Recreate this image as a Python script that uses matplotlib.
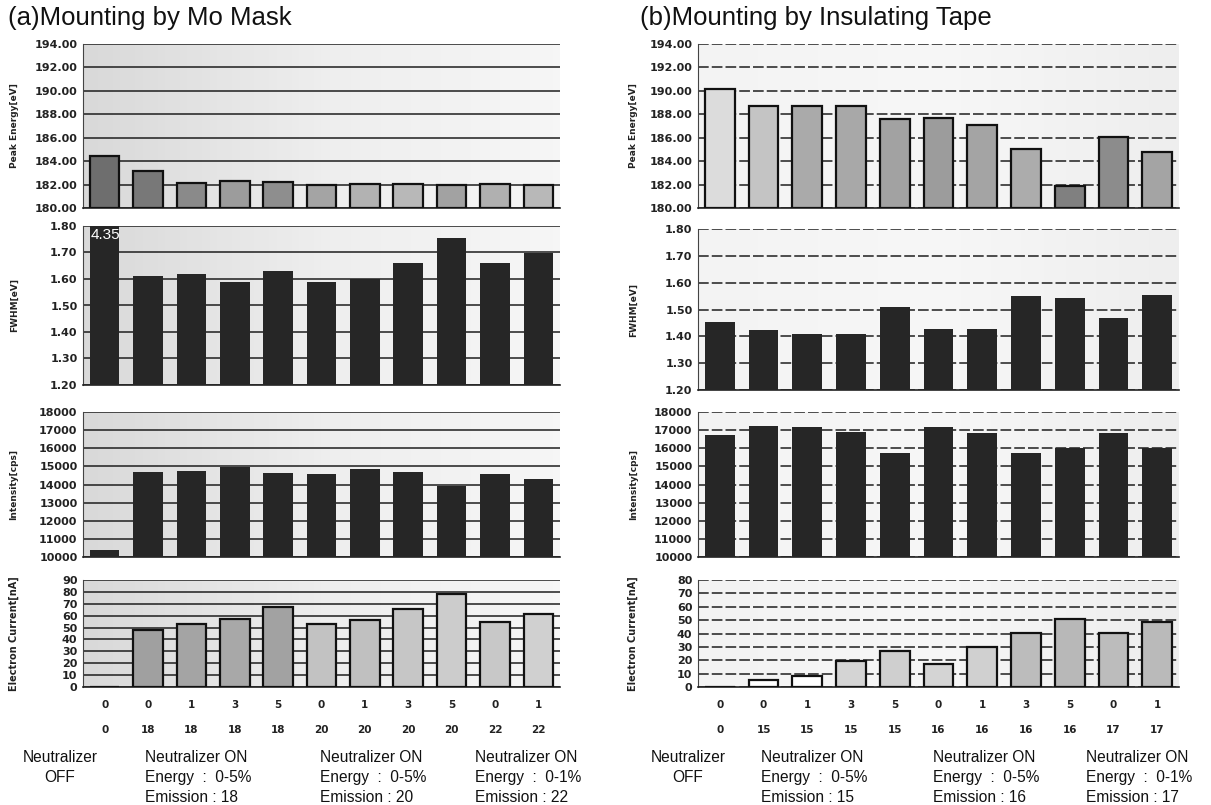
import numpy as np
import matplotlib
matplotlib.use("Agg")
from matplotlib import pyplot as plt
from matplotlib import transforms

# bar order: OFF, then (energy %, emission) pairs
energy_a = [0, 0, 1, 3, 5, 0, 1, 3, 5, 0, 1]
emission_a = [0, 18, 18, 18, 18, 20, 20, 20, 20, 22, 22]
energy_b = [0, 0, 1, 3, 5, 0, 1, 3, 5, 0, 1]
emission_b = [0, 15, 15, 15, 15, 16, 16, 16, 16, 17, 17]

peak_a = [184.45, 183.2, 182.15, 182.3, 182.25, 182.0, 182.05, 182.05, 182.0, 182.05, 182.0]
fwhm_a = [4.35, 1.61, 1.62, 1.59, 1.63, 1.59, 1.60, 1.66, 1.755, 1.66, 1.70]
inten_a = [10360, 14700, 14760, 14950, 14620, 14600, 14850, 14680, 13900, 14560, 14300]
curr_a = [0, 47.8, 52.8, 57.0, 67.5, 52.8, 56.1, 65.5, 78.5, 55.0, 61.7]

peak_b = [190.2, 188.7, 188.75, 188.75, 187.6, 187.7, 187.1, 185.0, 181.9, 186.1, 184.8]
fwhm_b = [1.452, 1.422, 1.409, 1.409, 1.511, 1.429, 1.429, 1.552, 1.542, 1.470, 1.554]
inten_b = [16750, 17240, 17150, 16910, 15750, 17180, 16820, 15750, 16020, 16860, 16020]
curr_b = [0, 5.5, 8.5, 19.5, 27.0, 17.0, 30.0, 40.5, 50.5, 40.5, 48.5]

group_off = "Neutralizer\nOFF"
groups_a = ["Neutralizer ON\nEnergy  :  0-5%\nEmission : 18",
            "Neutralizer ON\nEnergy  :  0-5%\nEmission : 20",
            "Neutralizer ON\nEnergy  :  0-1%\nEmission : 22"]
groups_b = ["Neutralizer ON\nEnergy  :  0-5%\nEmission : 15",
            "Neutralizer ON\nEnergy  :  0-5%\nEmission : 16",
            "Neutralizer ON\nEnergy  :  0-1%\nEmission : 17"]

# fill shades (scan look)
peak_col_a = ["#6e6e6e", "#787878", "#8a8a8a", "#9c9c9c", "#8e8e8e", "#a4a4a4",
              "#b2b2b2", "#b8b8b8", "#a2a2a2", "#b0b0b0", "#b8b8b8"]
peak_col_b = ["#dcdcdc", "#c4c4c4", "#aaaaaa", "#a8a8a8", "#a2a2a2", "#9c9c9c",
              "#a4a4a4", "#acacac", "#808080", "#8c8c8c", "#a4a4a4"]
curr_col_a = ["#a0a0a0", "#a0a0a0", "#a4a4a4", "#a8a8a8", "#a2a2a2", "#c2c2c2",
              "#c0c0c0", "#c6c6c6", "#cccccc", "#c8c8c8", "#d0d0d0"]
curr_col_b = ["#ffffff", "#ffffff", "#ffffff", "#d4d4d4", "#cfcfcf", "#d4d4d4",
              "#d0d0d0", "#bcbcbc", "#b8b8b8", "#bcbcbc", "#bababa"]

W, H = 1211, 805
fig = plt.figure(figsize=(W / 100, H / 100), dpi=100)
fig.patch.set_facecolor("white")


def px_axes(x0, x1, y0, y1):
    return fig.add_axes([x0 / W, 1 - y1 / H, (x1 - x0) / W, (y1 - y0) / H])


def style_axes(ax, lo, hi, step, fmt, ylabel, bg, dashed, labx):
    grad = np.linspace(0, 1, 64).reshape(1, -1)
    ax.imshow(grad, cmap=matplotlib.colors.LinearSegmentedColormap.from_list("bg", bg),
              extent=[0, 1, 0, 1], transform=ax.transAxes, aspect="auto", zorder=0)
    ax.set_xlim(-0.5, 10.5)
    ax.set_ylim(lo, hi)
    ticks = np.arange(lo, hi + step / 2, step)
    ax.set_yticks(ticks)
    ax.set_yticklabels([fmt.format(t) for t in ticks], fontsize=8, fontweight="bold",
                       color="#222222")
    ax.set_xticks([])
    ax.tick_params(axis="y", length=0, pad=4)
    ls = (0, (7, 2)) if dashed else "-"
    for t in ticks:
        ax.axhline(t, color="#1e1e1e", lw=1.1, ls=ls, zorder=1)
    for s in ["top", "right"]:
        ax.spines[s].set_visible(False)
    ax.spines["left"].set_color("#444444")
    ax.spines["bottom"].set_color("#222222")
    ax.spines["bottom"].set_linewidth(1.2)
    ax.set_ylabel(ylabel, fontsize=6.5, fontweight="bold", color="#222222")
    ax.yaxis.set_label_coords(labx, 0.5)


def panel(x0, x1, title, title_x, peak, fwhm, inten, curr, curr_max, pcol, ccol,
          energy, emission, groups, off_x, group_x, bg, dashed, labx, fwhm_box):
    fig.text(title_x / W, 1 - 18 / H, title, fontsize=18.5, family="Liberation Sans",
             va="center", ha="left", color="#111111")
    x = np.arange(len(peak))
    bw = 0.68

    ax1 = px_axes(x0, x1, 44, 208)
    style_axes(ax1, 180, 194, 2, "{:.2f}", "Peak Energy[eV]", bg, dashed, labx)
    ax1.bar(x, np.array(peak) - 180, bottom=180, width=bw, color=pcol,
            edgecolor="#111111", lw=1.6, zorder=3)

    ax2 = px_axes(x0, x1, fwhm_box[0], fwhm_box[1])
    style_axes(ax2, 1.2, 1.8, 0.1, "{:.2f}", "FWHM[eV]", bg, dashed, labx)
    ax2.bar(x, np.array(fwhm) - 1.2, bottom=1.2, width=bw, color="#262626", zorder=3)
    if fwhm[0] > 1.8:
        ax2.text(x[0] - bw / 2 + 0.02, 1.765, "{:.2f}".format(fwhm[0]), color="white",
                 fontsize=11, family="Liberation Sans", va="center", ha="left", zorder=4)

    ax3 = px_axes(x0, x1, 412, 557)
    style_axes(ax3, 10000, 18000, 1000, "{:.0f}", "Intensity[cps]", bg, dashed, labx)
    ax3.bar(x, np.array(inten) - 10000, bottom=10000, width=bw, color="#262626", zorder=3)

    ax4 = px_axes(x0, x1, 580, 687)
    style_axes(ax4, 0, curr_max, 10, "{:.0f}", "Electron Current[nA]", bg, dashed, labx)
    ax4.yaxis.label.set_fontsize(7)
    ax4.bar(x, curr, width=bw, color=ccol, edgecolor="#111111", lw=1.6, zorder=3)

    tr = transforms.blended_transform_factory(ax4.transData, ax4.transAxes)
    for i in x:
        ax4.text(i, -18 / 107, str(energy[i]), transform=tr, ha="center", va="center",
                 fontsize=7.5, fontweight="bold", color="#222222")
        ax4.text(i, -43 / 107, str(emission[i]), transform=tr, ha="center", va="center",
                 fontsize=7.5, fontweight="bold", color="#222222")

    fig.text(off_x / W, 1 - 750 / H, group_off, ha="center", va="top", fontsize=11.2,
             family="Liberation Sans", linespacing=1.4, color="#111111")
    for gx, g in zip(group_x, groups):
        fig.text(gx / W, 1 - 750 / H, g, ha="left", va="top", fontsize=11.2,
                 family="Liberation Sans", linespacing=1.4, color="#111111")


panel(83, 560, "(a)Mounting by Mo Mask", 8, peak_a, fwhm_a, inten_a, curr_a, 90,
      peak_col_a, curr_col_a, energy_a, emission_a, groups_a, 60, [145, 320, 475],
      ["#d9d9d9", "#eeeeee", "#f6f6f6"], False, -0.135, (226, 385))
panel(698, 1179, "(b)Mounting by Insulating Tape", 640, peak_b, fwhm_b, inten_b, curr_b, 80,
      peak_col_b, curr_col_b, energy_b, emission_b, groups_b, 688, [761, 933, 1086],
      ["#f3f3f3", "#f7f7f7", "#eeeeee"], True, -0.125, (229, 390))

fig.savefig("out.png", dpi=100)
